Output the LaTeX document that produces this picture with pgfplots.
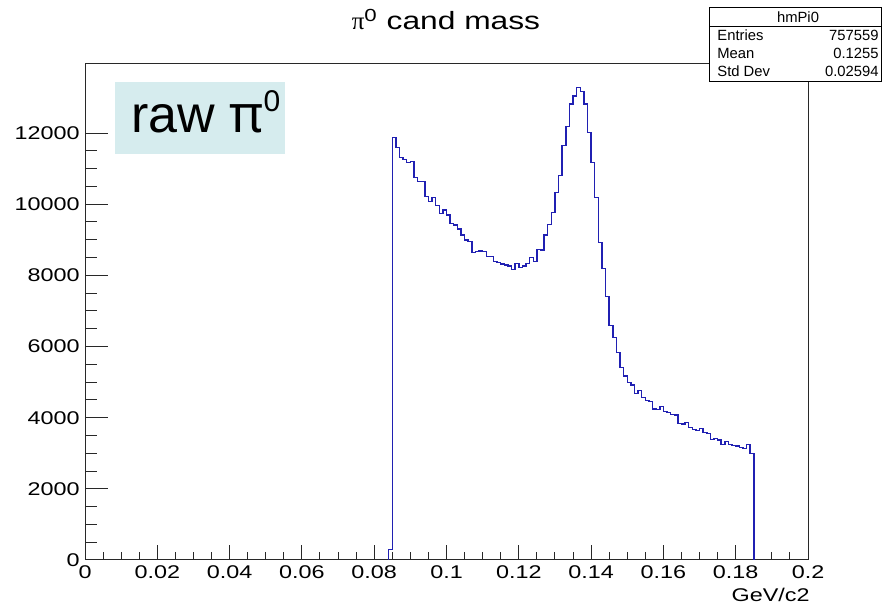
\documentclass[border=0pt]{standalone}
\usepackage{fontspec}
\setmainfont{Liberation Sans}
\newfontfamily\widesans[FakeStretch=1.27]{Liberation Sans}
\newfontfamily\greekserif{Liberation Serif}
\newfontfamily\greeksans{Noto Sans}
\usepackage{pgfplots}
\pgfplotsset{compat=1.18}
\definecolor{histblue}{RGB}{32,32,178}
\definecolor{labelbg}{RGB}{214,236,238}
\definecolor{framegray}{RGB}{40,40,40}

\begin{document}
\begin{tikzpicture}
\useasboundingbox (0,0) rectangle (441pt,304pt);
\begin{axis}[
  at={(42.5pt,24pt)}, anchor=south west,
  scale only axis, width=361.5pt, height=248pt,
  xmin=0, xmax=0.2, ymin=0, ymax=13940,
  axis line style={line width=0.5pt, framegray},
  tick align=inside,
  xtick pos=bottom, ytick pos=left,
  scaled ticks=false,
  xtick={0,0.02,0.04,0.06,0.08,0.1,0.12,0.14,0.16,0.18,0.2},
  xticklabels={0,0.02,0.04,0.06,0.08,0.1,0.12,0.14,0.16,0.18,0.2},
  ytick={0,2000,4000,6000,8000,10000,12000},
  yticklabels={0,2000,4000,6000,8000,10000,12000},
  minor x tick num=3, minor y tick num=3,
  xtick style={line width=0.5pt, framegray,
    /pgfplots/major tick length=7.5pt, /pgfplots/minor tick length=3.75pt},
  ytick style={line width=0.5pt, framegray,
    /pgfplots/major tick length=11.3pt, /pgfplots/minor tick length=6pt},
  tick label style={font=\fontsize{9.2}{10}\widesans},
  xticklabel style={inner sep=1pt, yshift=-1.5pt},
  yticklabel style={inner sep=1pt, xshift=-1.5pt},
]
\addplot[histblue, line width=0.75pt, const plot] coordinates {
(0.084,0) (0.084,300)
(0.085,11877) (0.086,11596) (0.087,11306) (0.088,11249) (0.089,11174)
(0.090,11193) (0.091,10744) (0.092,10631) (0.093,10631) (0.094,10210)
(0.095,10069) (0.096,10182) (0.097,9957) (0.098,9741) (0.099,9835)
(0.100,9694) (0.101,9460) (0.102,9413) (0.103,9301) (0.104,9132)
(0.105,8992) (0.106,8945) (0.107,8645) (0.108,8670) (0.109,8680)
(0.110,8670) (0.111,8524) (0.112,8524) (0.113,8383) (0.114,8355)
(0.115,8317) (0.116,8289) (0.117,8261) (0.118,8167) (0.119,8336)
(0.120,8224) (0.121,8261) (0.122,8336) (0.123,8495) (0.124,8383)
(0.125,8730) (0.126,8711) (0.127,9132) (0.128,9432) (0.129,9769)
(0.130,10322) (0.131,10800) (0.132,11652) (0.133,12177) (0.134,12814)
(0.135,13038) (0.136,13282) (0.137,13160) (0.138,12814) (0.139,12008)
(0.140,11174) (0.141,10181) (0.142,8917) (0.143,8186) (0.144,7400)
(0.145,6585) (0.146,6247) (0.147,5826) (0.148,5414) (0.149,5170)
(0.150,4983) (0.151,4918) (0.152,4683) (0.153,4758) (0.154,4571)
(0.155,4477) (0.156,4449) (0.157,4243) (0.158,4234) (0.159,4309)
(0.160,4168) (0.161,4140) (0.162,4093) (0.163,4075) (0.164,3840)
(0.165,3822) (0.166,3859) (0.167,3728) (0.168,3672) (0.169,3635)
(0.170,3691) (0.171,3579) (0.172,3560) (0.173,3391) (0.174,3410)
(0.175,3372) (0.176,3251) (0.177,3326) (0.178,3251) (0.179,3213)
(0.180,3200) (0.181,3157) (0.182,3140) (0.183,3251) (0.184,2998)
(0.185,0)
};
\end{axis}

% annotations, placed in a 882 x 608 grid (origin top left)
\begin{scope}[x=0.5pt, y=-0.5pt, shift={(0pt,304pt)}]
  % title
  \node[anchor=base, inner sep=0pt] at (446,30)
    {\fontsize{12.5}{14}\widesans{\greekserif π}\textsuperscript{0} cand mass};
  % x axis title
  \node[anchor=base east, inner sep=0pt] at (810,602)
    {\fontsize{9.2}{10}\widesans GeV/c2};
  % label box
  \fill[labelbg] (115,82) rectangle (285,154);
  \node[anchor=base west, inner sep=0pt] at (131,133)
    {\fontsize{26}{28}\selectfont raw {\greeksans π}\raisebox{0.42em}{\fontsize{15}{16}\selectfont 0}};
  % statistics box
  \filldraw[fill=white, draw=black, line width=0.5pt] (709,8) rectangle (881,82);
  \draw[line width=0.5pt] (709,27) -- (881,27);
  \begin{scope}[every node/.style={inner sep=0pt, font=\fontsize{7.4}{8}\selectfont}]
    \node[anchor=base] at (798,22.5) {hmPi0};
    \node[anchor=base west] at (717,40.5) {Entries};
    \node[anchor=base east] at (879,40.5) {757559};
    \node[anchor=base west] at (717,58.5) {Mean};
    \node[anchor=base east] at (879,58.5) {0.1255};
    \node[anchor=base west] at (717,76.5) {Std Dev};
    \node[anchor=base east] at (879,76.5) {0.02594};
  \end{scope}
\end{scope}
\end{tikzpicture}
\end{document}
